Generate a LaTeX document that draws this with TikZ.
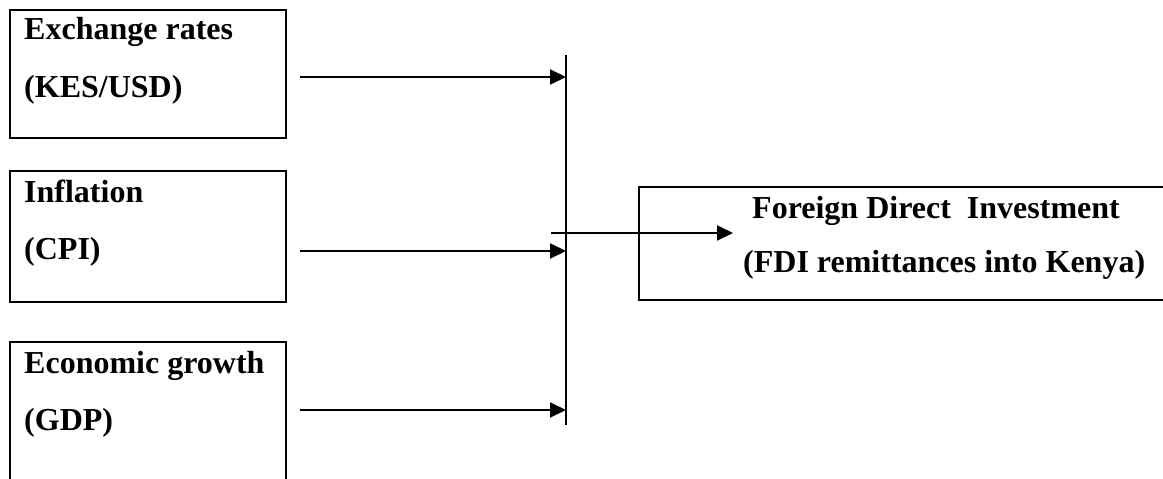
\documentclass[tikz,border=0pt]{standalone}
\usepackage{fontspec}
\setmainfont{Liberation Serif}
\usetikzlibrary{arrows.meta}
\tikzset{
  boxstyle/.style={draw=black, line width=2pt, rectangle, inner sep=0pt},
  lbl/.style={anchor=base west, inner sep=0pt, font=\fontsize{32}{38}\selectfont\bfseries},
  arr/.style={draw=black, line width=2pt, -{Triangle[length=16pt,width=15pt]}},
  plain/.style={draw=black, line width=2pt}
}
\begin{document}
\begin{tikzpicture}[x=1pt,y=-1pt]
\useasboundingbox (0,0) rectangle (1163,479);
\clip (0,0) rectangle (1163,479);
% input boxes
\node[boxstyle, minimum width=276pt, minimum height=128pt] (b1) at (148,74) {};
\node[boxstyle, minimum width=276pt, minimum height=131pt] (b2) at (148,236.5) {};
\node[boxstyle, minimum width=276pt, minimum height=178pt] (b3) at (148,431) {};
% output box
\node[boxstyle, minimum width=541pt, minimum height=113pt] (out) at (909.5,243.5) {};
% labels
\node[lbl] (t1a) at (24,39) {Exchange rates};
\node[lbl] (t1b) at (24,97) {(KES/USD)};
\node[lbl] (t2a) at (24,202) {Inflation};
\node[lbl] (t2b) at (24,259) {(CPI)};
\node[lbl] (t3a) at (24,373) {Economic growth};
\node[lbl] (t3b) at (24,430) {(GDP)};
\node[lbl] (o1) at (752,218) {Foreign Direct\ \ Investment};
\node[lbl] (o2) at (743,272) {(FDI remittances into Kenya)};
% vertical collector line
\coordinate (vt) at (566,55);
\coordinate (vb) at (566,425);
\draw[plain] (vt) -- (vb);
% arrows into the collector
\coordinate (a1) at (300,77);
\coordinate (a2) at (300,251);
\coordinate (a3) at (300,410);
\draw[arr] (a1) -- (vt |- a1);
\draw[arr] (a2) -- (vt |- a2);
\draw[arr] (a3) -- (vt |- a3);
% output arrow
\coordinate (os) at (551,233);
\coordinate (oe) at (733,233);
\draw[arr] (os) -- (oe);
\end{tikzpicture}
\end{document}
